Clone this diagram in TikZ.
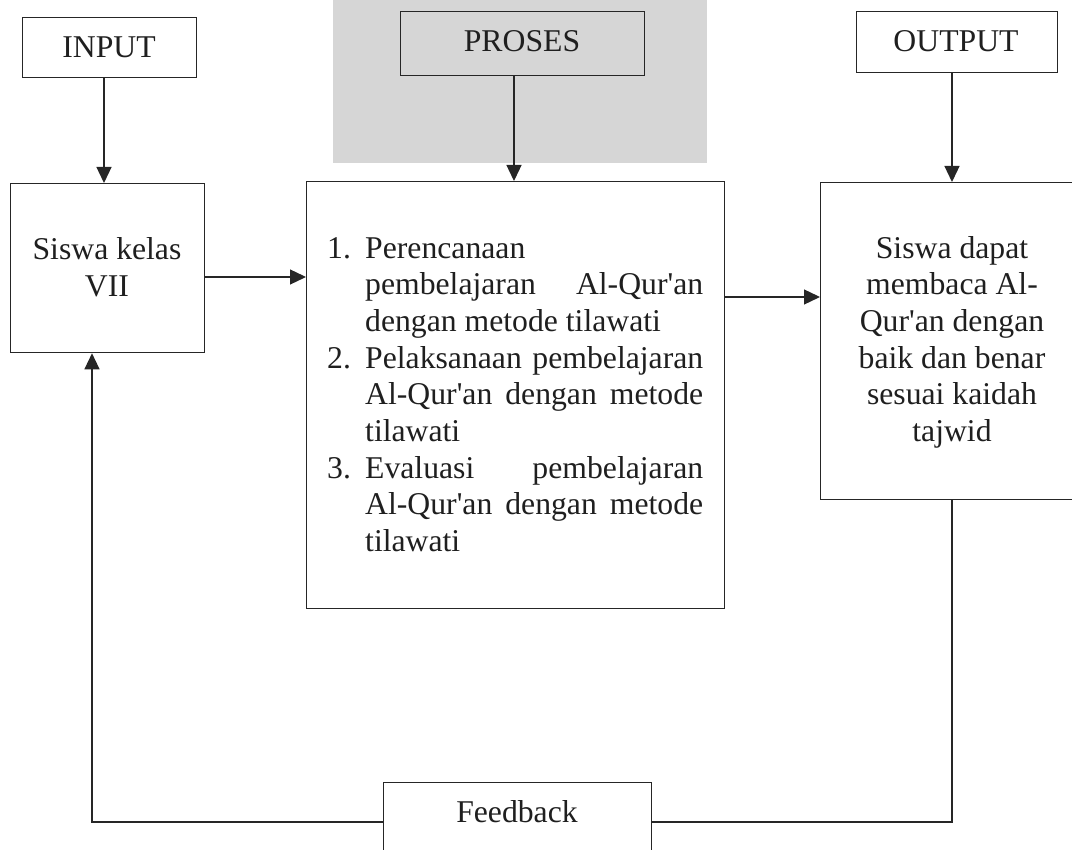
\documentclass[tikz,border=0pt]{standalone}
\usepackage{fontspec}
\setmainfont{Liberation Serif}
\usetikzlibrary{arrows.meta}
\newcommand\itm[1]{\makebox[38pt][l]{#1}}
\newcommand\jus[1]{\makebox[338pt][s]{#1}}
\newcommand\ap{\textquotesingle}
\begin{document}
\begin{tikzpicture}[x=1pt,y=-1pt,
  box/.style={draw=black!85, line width=1.3pt, inner sep=0pt, anchor=north west},
  lbl/.style={inner sep=0pt, anchor=base, text=black!88, font=\fontsize{31.7}{36.7}\selectfont},
  link/.style={draw=black!85, line width=1.3pt},
  arr/.style={link, -{Triangle[length=16pt,width=15pt]}}]
\useasboundingbox (0,0) rectangle (1072,850);
% faint watermark block
\fill[black!16] (333,0) rectangle (707,163);
% boxes
\node[box, minimum width=174pt, minimum height=60pt] (input) at (22,17) {};
\node[box, minimum width=194pt, minimum height=169pt] (siswa) at (10,183) {};
\node[box, minimum width=244pt, minimum height=64pt] (ptitle) at (400,11) {};
\node[box, minimum width=418pt, minimum height=427pt] (proses) at (306,181) {};
\node[box, minimum width=201pt, minimum height=61pt] (otitle) at (856,11) {};
\node[box, minimum width=280pt, minimum height=317pt] (obox) at (820,182) {};
\node[box, minimum width=268pt, minimum height=100pt] (fb) at (383,782) {};
% texts (multi-line nodes: base = baseline of last line)
\node[lbl] (tin) at (109,58) {INPUT};
\node[lbl] (tpr) at (522,52) {PROSES};
\node[lbl] (tout) at (956,52) {OUTPUT};
\node[lbl, align=center] (tsis) at (107,296.7) {Siswa kelas\\VII};
\node[lbl, align=center] (tobx) at (952,441.5) {Siswa dapat\\membaca Al-\\Qur\ap an dengan\\baik dan benar\\sesuai kaidah\\tajwid};
\node[lbl, align=left, anchor=base west] (tproc) at (327,551.6) {%
\itm{1.}Perencanaan\\
\itm{}\jus{pembelajaran Al-Qur\ap an}\\
\itm{}dengan metode tilawati\\
\itm{2.}\jus{Pelaksanaan pembelajaran}\\
\itm{}\jus{Al-Qur\ap an dengan metode}\\
\itm{}tilawati\\
\itm{3.}\jus{Evaluasi pembelajaran}\\
\itm{}\jus{Al-Qur\ap an dengan metode}\\
\itm{}tilawati};
\node[lbl] (tfb) at (517,822) {Feedback};
% connectors
\coordinate (a1) at (104,0);
\coordinate (a2) at (514,0);
\coordinate (a3) at (952,0);
\coordinate (h1) at (0,277);
\coordinate (h2) at (0,297);
\coordinate (fbR) at (952,822);
\coordinate (fbL) at (92,822);
\draw[arr] (input.south -| a1) -- (siswa.north -| a1);
\draw[arr] (ptitle.south -| a2) -- (proses.north -| a2);
\draw[arr] (otitle.south -| a3) -- (obox.north -| a3);
\draw[arr] (siswa.east |- h1) -- (proses.west |- h1);
\draw[arr] (proses.east |- h2) -- (obox.west |- h2);
\draw[link] (obox.south -| fbR) -- (fbR) -- (fb.east |- fbR);
\draw[arr] (fb.west |- fbL) -- (fbL) -- (siswa.south -| fbL);
\end{tikzpicture}
\end{document}
